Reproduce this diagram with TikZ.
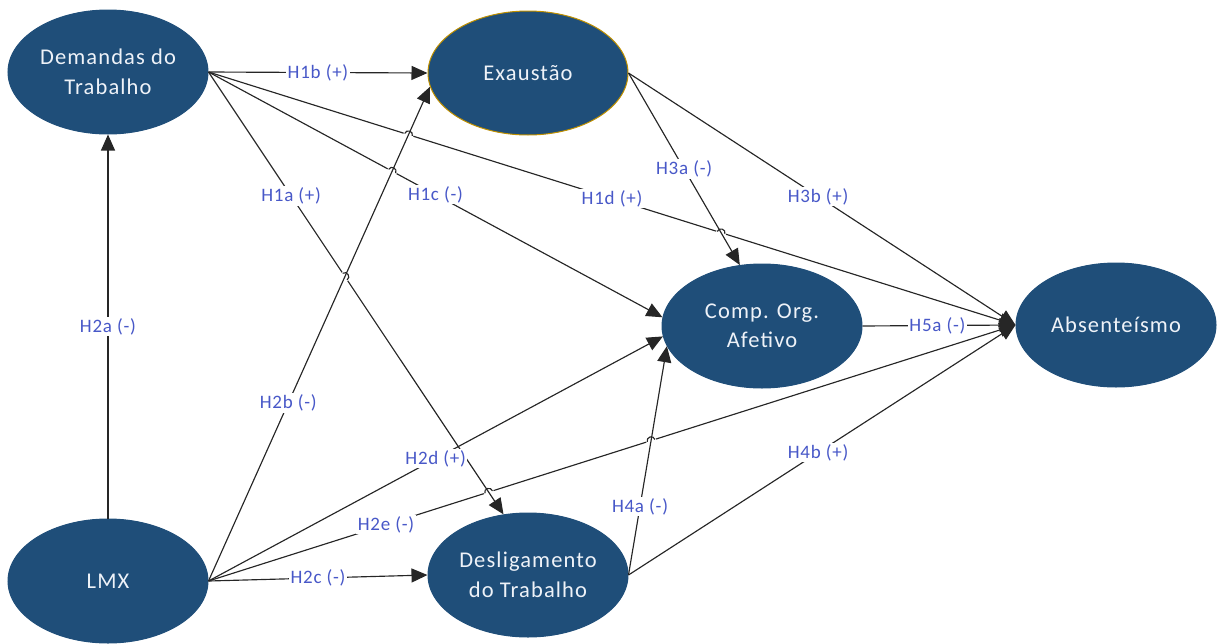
\documentclass[tikz,border=0pt]{standalone}
\usepackage{fontspec}
\setmainfont{Carlito}
\newfontfamily\nodefont[LetterSpace=5]{Carlito}
\newfontfamily\lblfont[LetterSpace=4]{Carlito}
\usetikzlibrary{arrows.meta,calc,intersections,shapes.geometric}
\definecolor{nodeblue}{RGB}{31,78,121}
\definecolor{lblblue}{RGB}{72,88,200}
\definecolor{goldrim}{RGB}{191,144,0}
\definecolor{nodetext}{RGB}{238,242,248}
\tikzset{
  latent/.style={ellipse, fill=nodeblue, draw=nodeblue, line width=1pt,
    minimum width=200pt, minimum height=124pt, inner sep=0pt,
    text=nodetext, font=\nodefont\fontsize{22.5}{29.5}\selectfont, align=center},
  link/.style={draw=black!85, line width=1.15pt},
  arr/.style={link, -{Triangle[length=16pt,width=14pt]}},
  lbl/.style={fill=white, text=lblblue, font=\lblfont\fontsize{19}{21}\selectfont, inner sep=1.5pt},
}
% small line jump: #1 start, #2 end of the jumping line, #3 crossing point
\newcommand\hopover[3]{%
  \coordinate (hA) at ($(#3)!4pt!(#1)$);
  \coordinate (hB) at ($(#3)!4pt!(#2)$);
  \draw[white,line width=3.5pt] ($(#3)!5pt!(#1)$) -- ($(#3)!5pt!(#2)$);
  \draw[link] (hA) .. controls ($(hA)!5pt!90:(hB)$) and ($(hB)!5pt!-90:(hA)$) .. (hB);}
\begin{document}
\begin{tikzpicture}[x=1pt,y=-1pt]
\useasboundingbox (0,0) rectangle (1218,643);

% constructs
\node[latent] (dem) at (108,72) {Demandas do\\Trabalho};
\node[latent, draw=goldrim] (exa) at (528,73) {Exaustão};
\node[latent] (comp) at (762,326) {Comp. Org.\\Afetivo};
\node[latent] (abs) at (1116,325) {Absenteísmo};
\node[latent] (lmx) at (108,581) {LMX};
\node[latent] (des) at (528,575) {Desligamento\\do Trabalho};

% paths that others jump over
\path[name path=p2b] (lmx.east) -- (exa.188);
\path[name path=p3a] (exa.east) -- (comp.110);
\path[name path=p1a] (dem.east) -- (des.112);
\path[name path=p4a] (des.east) -- (comp.192);

% lines that jump
\draw[arr, name path=p1c] (dem.east) -- coordinate[pos=.5] (L1c) (comp.175);
\draw[arr, name path=p1d] (dem.east) -- coordinate[pos=.5] (L1d) (abs.west);
\draw[arr, name path=p2e] (lmx.east) -- coordinate[pos=.22] (L2e) (abs.west);

\path[name intersections={of=p1c and p2b, by=x1}];
\path[name intersections={of=p1d and p2b, by=x2}];
\path[name intersections={of=p1d and p3a, by=x3}];
\path[name intersections={of=p2e and p1a, by=x4}];
\path[name intersections={of=p2e and p4a, by=x5}];
\path[name intersections={of=p1a and p2b, by=x6}];

\hopover{dem.east}{comp.175}{x1}
\hopover{dem.east}{abs.west}{x2}
\hopover{dem.east}{abs.west}{x3}
\hopover{lmx.east}{abs.west}{x4}
\hopover{lmx.east}{abs.west}{x5}

\draw[arr] (dem.east) -- coordinate[pos=.28] (L1a) (des.112);
\hopover{dem.east}{des.112}{x6}

% remaining paths
\draw[arr] (dem.east) -- coordinate[pos=.5] (L1b) (exa.west);
\draw[arr] (lmx.north) -- coordinate[pos=.5] (L2a) (dem.south);
\draw[arr] (lmx.east) -- coordinate[pos=.36] (L2b) (exa.188);
\draw[arr] (lmx.east) -- coordinate[pos=.5] (L2c) (des.west);
\draw[arr] (lmx.east) -- coordinate[pos=.5] (L2d) (comp.186);
\draw[arr] (exa.east) -- coordinate[pos=.5] (L3a) (comp.110);
\draw[arr] (exa.east) -- coordinate[pos=.49] (L3b) (abs.west);
\draw[arr] (des.east) -- coordinate[pos=.3] (L4a) (comp.192);
\draw[arr] (des.east) -- coordinate[pos=.49] (L4b) (abs.west);
\draw[arr] (comp.east) -- coordinate[pos=.49] (L5a) (abs.west);

% hypothesis labels
\node[lbl] (t1a) at (L1a) {H1a (+)};
\node[lbl] (t1b) at (L1b) {H1b (+)};
\node[lbl] (t1c) at (L1c) {H1c (-)};
\node[lbl] (t1d) at (L1d) {H1d (+)};
\node[lbl] (t2a) at (L2a) {H2a (-)};
\node[lbl] (t2b) at (L2b) {H2b (-)};
\node[lbl] (t2c) at (L2c) {H2c (-)};
\node[lbl] (t2d) at (L2d) {H2d (+)};
\node[lbl] (t2e) at (L2e) {H2e (-)};
\node[lbl] (t3a) at (L3a) {H3a (-)};
\node[lbl] (t3b) at (L3b) {H3b (+)};
\node[lbl] (t4a) at (L4a) {H4a (-)};
\node[lbl] (t4b) at (L4b) {H4b (+)};
\node[lbl] (t5a) at (L5a) {H5a (-)};
\end{tikzpicture}
\end{document}
